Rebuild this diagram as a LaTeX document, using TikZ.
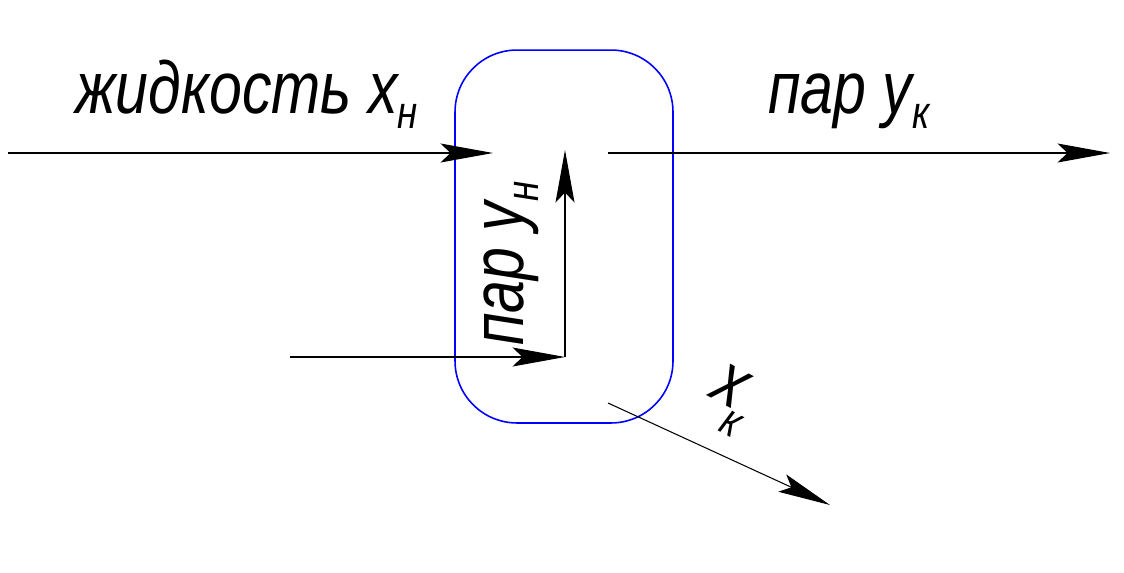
\documentclass[tikz,border=0pt]{standalone}
\usepackage{fontspec}
\setmainfont{Liberation Sans}[ItalicFont={Liberation Sans Italic}]
\newfontfamily\gostfont{Liberation Sans Italic}[FakeStretch=0.8]
\usetikzlibrary{arrows.meta}
\newcommand\lowsub[2][9pt]{\raisebox{-#1}{\fontsize{26}{26}\selectfont #2}}
\tikzset{
  flow/.style={line width=0.6pt, -{Stealth[length=1.05cm, width=0.38cm, inset=0.2cm]}},
  lbl/.style={inner sep=0pt, font=\gostfont\fontsize{42}{48}\selectfont},
}
\begin{document}
\begin{tikzpicture}[x=0.02cm,y=-0.02cm]
\useasboundingbox (0,0) rectangle (1124,572);
\node[draw=blue, line width=0.9pt, rounded corners=1.24cm, minimum width=4.36cm, minimum height=7.46cm, inner sep=0pt] (box) at (564,236.5) {};
% coordinates
\coordinate (inL) at (8,153);
\coordinate (inLtip) at (493,153);
\coordinate (outR) at (608,153);
\coordinate (outRtip) at (1110,153);
\coordinate (vapS) at (290,357);
\coordinate (corner) at (565,357);
\coordinate (vapTip) at (565,150);
\coordinate (liqS) at (608,403);
\coordinate (liqTip) at (830,505);
% connectors
\draw[flow] (inL) -- (inLtip);
\draw[flow] (outR) -- (outRtip);
\draw[flow] (vapS) -- (corner);
\draw[flow] (corner) -- (vapTip);
\draw[flow] (liqS) -- (liqTip);
% labels
\node[lbl, anchor=base west] (t1) at (75,113) {жидкость x\lowsub{н}};
\node[lbl, anchor=base west] (t2) at (768,113) {пар y\lowsub{к}};
\node[lbl, anchor=base west, rotate=90] (t3) at (523,346) {пар y\lowsub{н}};
\node[lbl, anchor=base west, rotate=-28] (t4) at (708,396) {x\hspace{-3pt}\lowsub[15pt]{к}};
\end{tikzpicture}
\end{document}
